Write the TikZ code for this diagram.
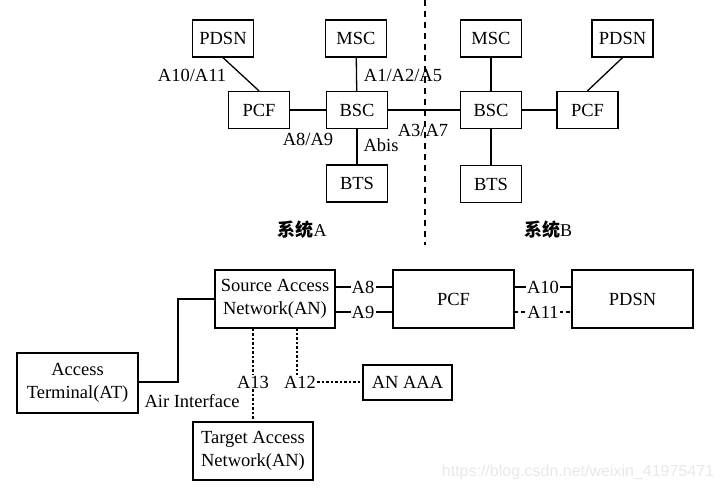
\documentclass[tikz,border=0pt]{standalone}
\usepackage{fontspec}
\setmainfont{Liberation Serif}
\newfontfamily\cjk{Noto Sans CJK SC}
\newfontfamily\wmfont{Liberation Sans}
\begin{document}
\begin{tikzpicture}[x=1pt,y=-1pt,
  box/.style={draw, line width=1.3pt, inner sep=0pt, minimum width=61pt, minimum height=37pt, align=center, font=\fontsize{18.5}{23}\selectfont},
  lbl/.style={inner sep=1pt, font=\fontsize{18.5}{23}\selectfont},
  conn/.style={line width=1.3pt},
  dotl/.style={line width=1.3pt, dash pattern=on 2.5pt off 2pt},
  dashl/.style={line width=1.3pt, dash pattern=on 3.5pt off 3pt},
  sepl/.style={line width=1.3pt, dash pattern=on 6pt off 5pt},
]
\useasboundingbox (0,0) rectangle (722,491);

% ---------- top: system A ----------
\node[box] (PDSNa) at (223,38.5) {PDSN};
\node[box] (MSCa)  at (356,38.5) {MSC};
\node[box] (PCFa)  at (259,110)  {PCF};
\node[box] (BSCa)  at (357,110)  {BSC};
\node[box] (BTSa)  at (357,183.5) {BTS};
% ---------- top: system B ----------
\node[box] (MSCb)  at (491,38.5) {MSC};
\node[box] (PDSNb) at (622.5,38.5) {PDSN};
\node[box] (BSCb)  at (491,110)  {BSC};
\node[box] (PCFb)  at (587.5,110) {PCF};
\node[box] (BTSb)  at (491,184)  {BTS};

\draw[conn] (PDSNa.south) -- (PCFa.north);
\draw[conn] (MSCa) -- (BSCa);
\draw[conn] (BSCa) -- (BTSa);
\draw[conn] (PCFa) -- (BSCa);
\draw[conn] (BSCa) -- (BSCb);
\draw[conn] (MSCb) -- (BSCb);
\draw[conn] (BSCb) -- (BTSb);
\draw[conn] (BSCb) -- (PCFb);
\draw[conn] (PDSNb.south) -- (PCFb.north);

\node[lbl, anchor=base] (lA10) at (192,81.5) {A10/A11};
\node[lbl, anchor=base] (lA1)  at (403,81.5) {A1/A2/A5};
\node[lbl, anchor=base] (lA8)  at (308,145)  {A8/A9};
\node[lbl, anchor=base] (lAbis) at (381,151) {Abis};
\node[lbl, anchor=base] (lA3)  at (423,136)  {A3/A7};

\coordinate (dtop) at (425,0);
\coordinate (dbot) at (425,245);
\draw[sepl] (dtop) -- (dbot);

\node[lbl, font=\fontsize{18}{20}\selectfont] (sysA) at (302,230) {{\cjk\bfseries 系统}A};
\node[lbl, font=\fontsize{18}{20}\selectfont] (sysB) at (548,230) {{\cjk\bfseries 系统}B};

% ---------- bottom ----------
\node[box, minimum width=120pt, minimum height=58pt] (SAN) at (275,299) {Source Access\\Network(AN)};
\node[box, minimum width=121pt, minimum height=58pt] (PCF2) at (453.5,299) {PCF};
\node[box, minimum width=121pt, minimum height=58pt] (PDSN2) at (632.5,299) {PDSN};
\node[box, minimum width=121pt, minimum height=60pt] (AT) at (77.5,383) {Access\\Terminal(AT)};
\node[box, minimum width=120pt, minimum height=58pt] (TAN) at (253,451) {Target Access\\Network(AN)};
\node[box, minimum width=89pt, minimum height=35pt] (AAA) at (407.5,382.5) {AN AAA};

% AT -- SAN
\coordinate (k1) at (178,382);
\coordinate (k2) at (178,299);
\draw[conn] (AT.east |- k1) -- (k1) -- (k2) -- (SAN.west |- k2);
\node[lbl] (air) at (192,401) {Air Interface};

% A8 / A9
\node[lbl] (a8) at (363,287) {A8};
\node[lbl] (a9) at (363,312) {A9};
\draw[conn] (SAN.east |- a8) -- (a8);
\draw[conn] (a8) -- (PCF2.west |- a8);
\draw[conn] (SAN.east |- a9) -- (a9);
\draw[conn] (a9) -- (PCF2.west |- a9);

% A10 / A11
\node[lbl] (a10) at (543,287) {A10};
\node[lbl] (a11) at (543,312) {A11};
\draw[conn] (PCF2.east |- a10) -- (a10);
\draw[conn] (a10) -- (PDSN2.west |- a10);
\draw[dashl] (PCF2.east |- a11) -- (a11);
\draw[dashl] (a11) -- (PDSN2.west |- a11);

% A13 / A12
\node[lbl] (a13) at (253,382) {A13};
\node[lbl] (a12) at (300,382) {A12};
\draw[dotl] (a13 |- SAN.south) -- (a13);
\draw[dotl] (a13) -- (a13 |- TAN.north);
\coordinate (a12top) at (297,328);
\draw[dotl] (a12top) -- (a12top |- a12.north);
\draw[dotl] (a12) -- (AAA.west |- a12);

% watermark
\node[inner sep=0pt, font=\wmfont\fontsize{16}{16}\selectfont, text=black!9] (wm) at (578,472) {https://blog.csdn.net/weixin\_41975471};
\end{tikzpicture}
\end{document}
